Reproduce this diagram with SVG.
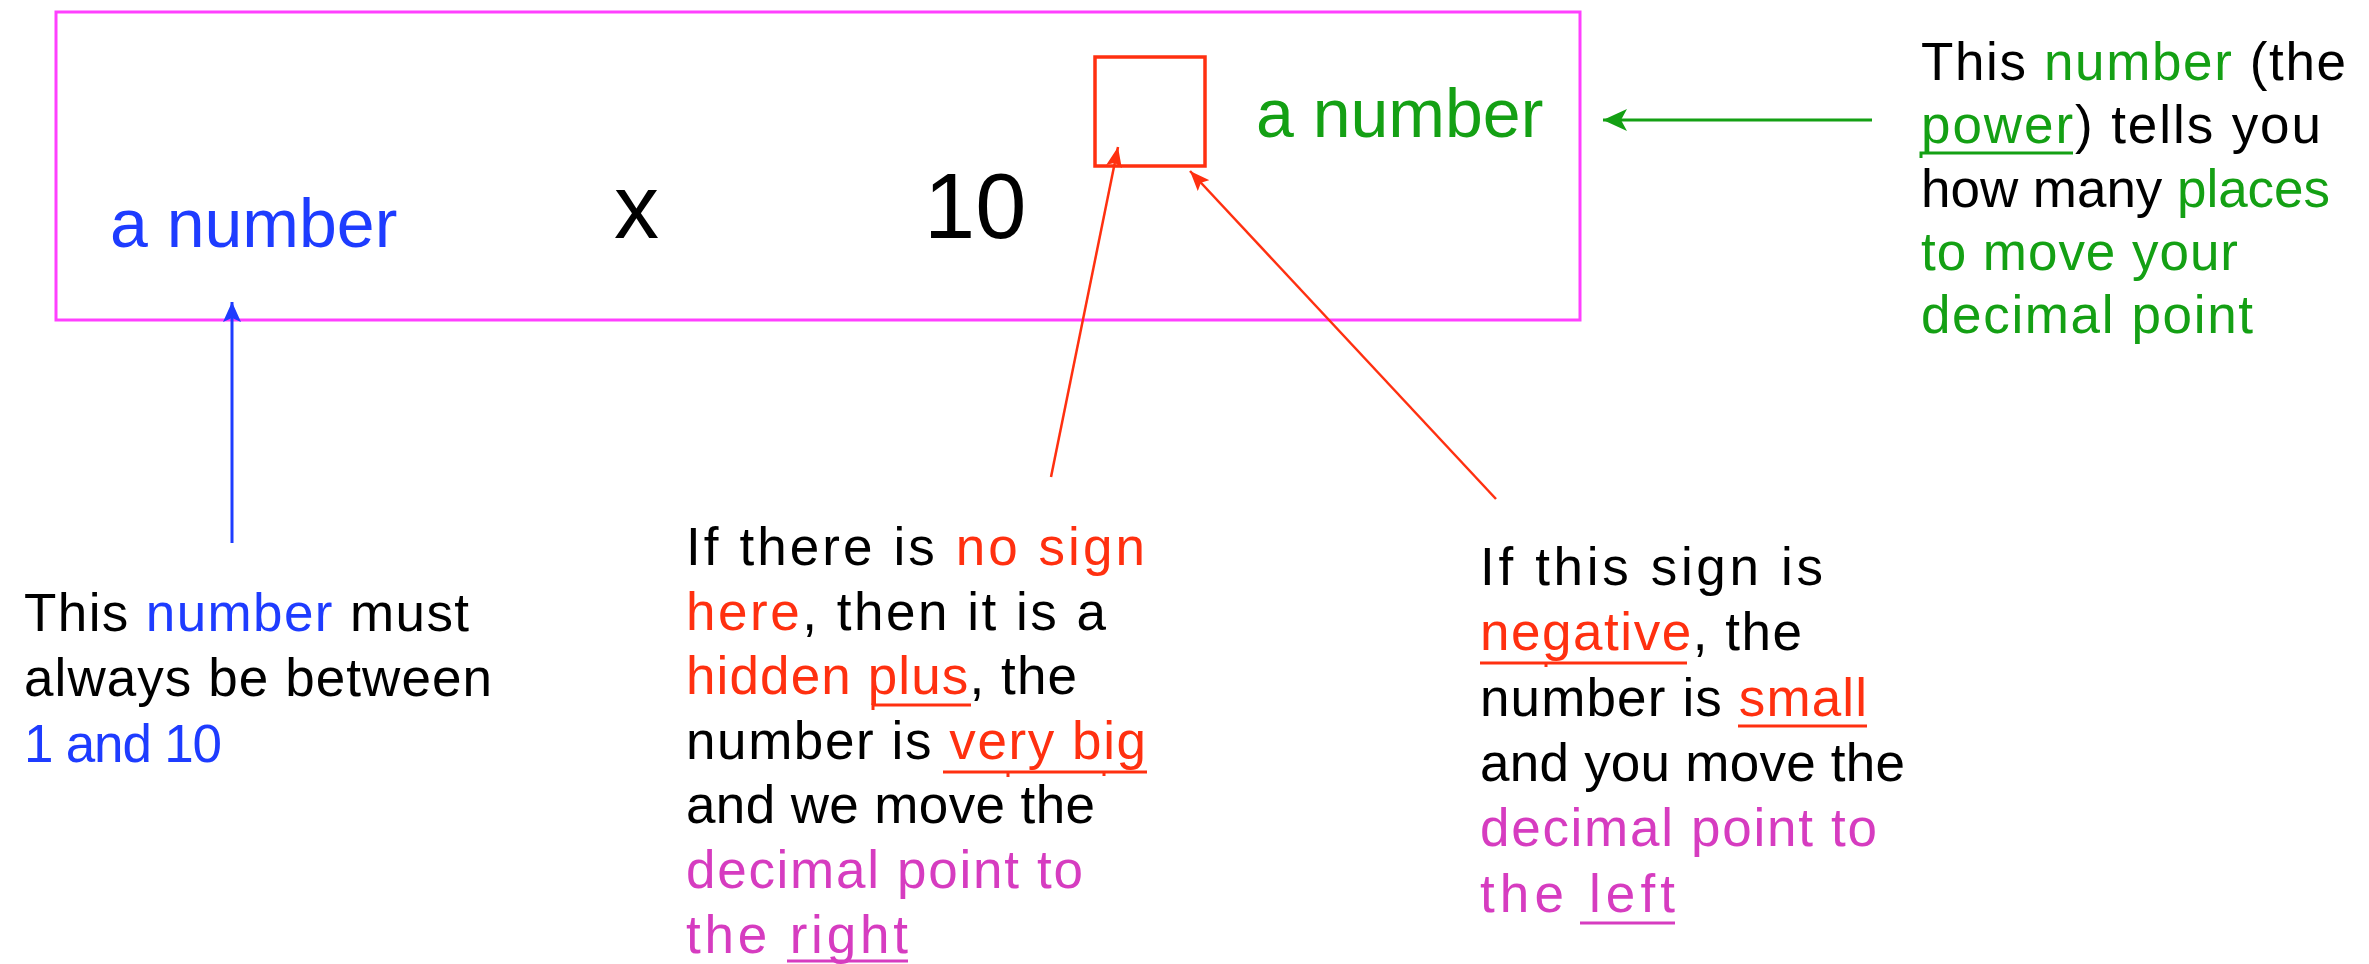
<svg xmlns="http://www.w3.org/2000/svg" width="2369" height="964" viewBox="0 0 2369 964">
<style>
.big{font-family:"Liberation Sans",Arial,sans-serif}
.t{font-family:"Liberation Sans",Arial,sans-serif;font-size:53px;fill:#000}
.blue{fill:#1e3cff}
.green{fill:#14a014}
.red{fill:#ff3010}
.mag{fill:#d63cc0}
.ul{stroke-width:3;fill:none}
</style>
<defs>
<marker id="ab" viewBox="0 0 20 20" refX="20" refY="10" markerWidth="20" markerHeight="20" markerUnits="userSpaceOnUse" orient="auto"><path d="M0,1 L20,10 L0,19 L4,10 Z" fill="#1e3cff"/></marker>
<marker id="ar" viewBox="0 0 20 16" refX="20" refY="8" markerWidth="20" markerHeight="16" markerUnits="userSpaceOnUse" orient="auto"><path d="M0,0 L20,8 L0,16 L4,8 Z" fill="#ff3010"/></marker>
<marker id="ag" viewBox="0 0 24 24" refX="24" refY="12" markerWidth="24" markerHeight="24" markerUnits="userSpaceOnUse" orient="auto"><path d="M0,1 L24,12 L0,23 L6,12 Z" fill="#14a014"/></marker>
</defs>
<rect width="2369" height="964" fill="#fff"/>

<g id="formula">
<rect x="56" y="12" width="1524" height="308" fill="none" stroke="#ff40ff" stroke-width="3"/>
<text class="big blue" x="110" y="247" font-size="68">a number</text>
<text class="big" x="614" y="238" font-size="90" fill="#000">x</text>
<text class="big" x="924" y="238" font-size="92" fill="#000">10</text>
<rect x="1095" y="57" width="110" height="109" fill="none" stroke="#ff3010" stroke-width="3.5"/>
<text class="big green" x="1256" y="137" font-size="68">a number</text>
</g>

<g id="connectors">
<line x1="232" y1="543" x2="232" y2="302" stroke="#1e3cff" stroke-width="3" marker-end="url(#ab)"/>
<line x1="1051" y1="477" x2="1118" y2="147" stroke="#ff3010" stroke-width="2.5" marker-end="url(#ar)"/>
<line x1="1496" y1="499" x2="1190" y2="171" stroke="#ff3010" stroke-width="2.5" marker-end="url(#ar)"/>
<line x1="1872" y1="120" x2="1603" y2="120" stroke="#14a014" stroke-width="3" marker-end="url(#ag)"/>
</g>

<g id="note-power">
<text class="t" x="1921" y="80" textLength="425" lengthAdjust="spacing">This <tspan class="green">number</tspan> (the</text>
<text class="t" x="1921" y="143" textLength="400" lengthAdjust="spacing"><tspan class="green">power</tspan>) tells you</text>
<text class="t" x="1921" y="207" textLength="409" lengthAdjust="spacing">how many <tspan class="green">places</tspan></text>
<text class="t green" x="1921" y="270" textLength="317" lengthAdjust="spacing">to move your</text>
<text class="t green" x="1921" y="333" textLength="332" lengthAdjust="spacing">decimal point</text>
<path class="ul" stroke="#14a014" d="M1921,158 L1921,153 L2073,153"/>
</g>

<g id="note-coefficient">
<text class="t" x="24" y="631" textLength="445" lengthAdjust="spacing">This <tspan class="blue">number</tspan> must</text>
<text class="t" x="24" y="696" textLength="468" lengthAdjust="spacing">always be between</text>
<text class="t blue" x="24" y="762" textLength="198" lengthAdjust="spacing">1 and 10</text>
</g>

<g id="note-positive">
<text class="t" x="686" y="565" textLength="459" lengthAdjust="spacing">If there is <tspan class="red">no sign</tspan></text>
<text class="t" x="686" y="630" textLength="420" lengthAdjust="spacing"><tspan class="red">here</tspan>, then it is a</text>
<text class="t" x="686" y="694" textLength="391" lengthAdjust="spacing"><tspan class="red">hidden plus</tspan>, the</text>
<text class="t" x="686" y="759" textLength="460" lengthAdjust="spacing">number is <tspan class="red">very big</tspan></text>
<text class="t" x="686" y="823" textLength="409" lengthAdjust="spacing">and we move the</text>
<text class="t mag" x="686" y="888" textLength="397" lengthAdjust="spacing">decimal point to</text>
<text class="t mag" x="686" y="953" textLength="222" lengthAdjust="spacing">the right</text>
<path class="ul" stroke="#ff3010" d="M873,710 L873,705 L971,705"/>
<path class="ul" stroke="#ff3010" d="M943,772 L1147,772 M1008,772 L1008,777 M1104,772 L1104,776"/>
<path class="ul" stroke="#d63cc0" d="M787,961 L908,961"/>
</g>

<g id="note-negative">
<text class="t" x="1480" y="585" textLength="343" lengthAdjust="spacing">If this sign is</text>
<text class="t" x="1480" y="650" textLength="322" lengthAdjust="spacing"><tspan class="red">negative</tspan>, the</text>
<text class="t" x="1480" y="716" textLength="387" lengthAdjust="spacing">number is <tspan class="red">small</tspan></text>
<text class="t" x="1480" y="781" textLength="425" lengthAdjust="spacing">and you move the</text>
<text class="t mag" x="1480" y="846" textLength="397" lengthAdjust="spacing">decimal point to</text>
<text class="t mag" x="1480" y="912" textLength="195" lengthAdjust="spacing">the left</text>
<path class="ul" stroke="#ff3010" d="M1480,663 L1687,663 M1546,663 L1546,667"/>
<path class="ul" stroke="#ff3010" d="M1738,726 L1867,726"/>
<path class="ul" stroke="#d63cc0" d="M1580,923 L1675,923"/>
</g>
</svg>
